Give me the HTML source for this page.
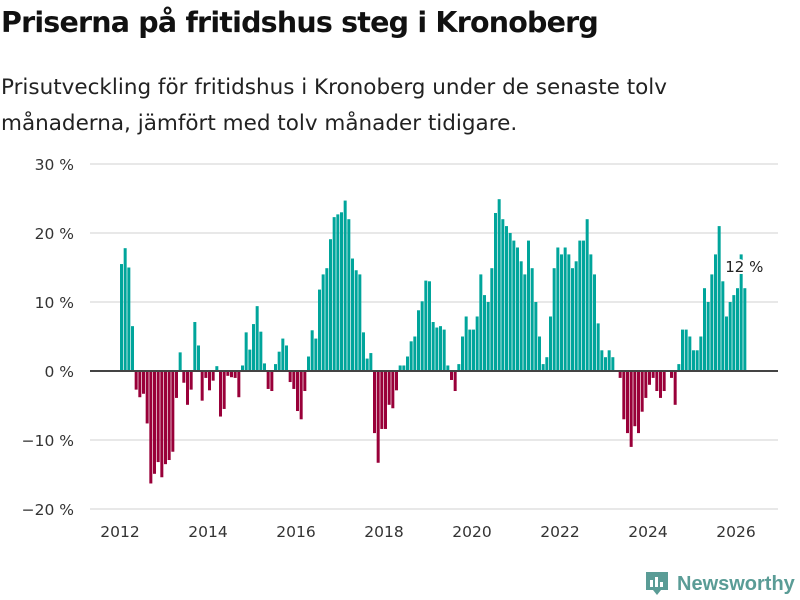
<!DOCTYPE html>
<html><head><meta charset="utf-8">
<style>
body{margin:0;background:#fff;font-family:"DejaVu Sans","Liberation Sans",sans-serif;}
#wrap{position:relative;width:800px;height:600px;overflow:hidden;}
h1{position:absolute;left:1px;top:6px;margin:0;font-size:28.5px;font-weight:bold;color:#111;letter-spacing:-0.8px;white-space:nowrap;}
.sub{position:absolute;left:1px;top:70px;margin:0;font-size:21.5px;line-height:36px;color:#222;white-space:nowrap;}
</style></head><body>
<div id="wrap">
<h1>Priserna på fritidshus steg i Kronoberg</h1>
<p class="sub">Prisutveckling för fritidshus i Kronoberg under de senaste tolv<br>månaderna, jämfört med tolv månader tidigare.</p>
<svg id="chart" width="800" height="600" style="position:absolute;left:0;top:0"></svg>
</div>
<script>
const startYear = 2012;
const values = [15.5,17.8,15.0,6.5,-2.7,-3.8,-3.3,-7.6,-16.3,-14.9,
-13.2,-15.4,-13.5,-12.9,-11.7,-3.9,2.7,-1.7,-4.9,-2.7,
7.1,3.7,-4.3,-1.0,-2.8,-1.4,0.7,-6.6,-5.5,-0.7,
-0.9,-1.0,-3.8,0.8,5.6,3.1,6.8,9.4,5.7,1.1,
-2.6,-2.9,1.0,2.8,
4.7,3.7,-1.6,-2.6,-5.8,-7.0,-2.9,2.1,5.9,4.7,
11.8,14.0,14.9,19.1,22.3,22.7,23.0,24.7,22.0,16.3,
14.6,14.0,5.6,1.8,2.6,-9.0,-13.3,-8.4,-8.4,-4.9,
-5.4,-2.8,0.8,0.8,2.1,4.3,5.0,8.8,10.1,13.1,
13.0,7.1,6.3,6.5,
6.0,0.8,-1.3,-2.9,1.0,5.0,7.9,6.0,6.0,7.9,
14.0,11.0,10.0,14.9,22.9,24.9,22.0,21.0,20.0,18.9,
17.9,15.9,14.0,18.9,14.9,10.0,5.0,1.0,2.0,7.9,
14.9,17.9,16.9,17.9,16.9,14.9,15.9,18.9,18.9,22.0,
16.9,14.0,6.9,
3.0,2.0,3.0,2.0,0,-1.0,-7.0,-9.0,-11.0,-8.0,
-9.0,-5.9,-3.9,-2.0,-1.0,-2.9,-3.9,-2.9,0,-1.0,
-4.9,1.0,6.0,6.0,5.0,3.0,3.0,5.0,12.0,10.0,
14.0,16.9,21.0,13.0,7.9,10.0,11.0,12.0,16.9,12.0];
const yTicks = [-20,-10,0,10,20,30];
const yTickLabels = ["−20 %","−10 %","0 %","10 %","20 %","30 %"];
const xTicks = [2012,2014,2016,2018,2020,2022,2024,2026];
const lastLabel = "12 %";

const NS="http://www.w3.org/2000/svg";
const svg=document.getElementById('chart');
const yS=v=>371-v*6.9;
const xS=t=>120+(t-startYear)*44;
const FF='DejaVu Sans, Liberation Sans, sans-serif';
function mk(tag,attrs,parent){const e=document.createElementNS(NS,tag);for(const k in attrs)e.setAttribute(k,attrs[k]);(parent||svg).appendChild(e);return e;}

yTicks.forEach((t,i)=>{
  if(t!==0){const g=mk('line',{x1:90,x2:778,y1:yS(t),y2:yS(t),stroke:'#e1e1e1','stroke-width':1.5});
  
  }
  const l=mk('text',{x:74,y:yS(t)+6,'text-anchor':'end','font-size':15.5,fill:'#333','font-family':FF});
  l.textContent=yTickLabels[i];
  
  
});
xTicks.forEach(t=>{
  const l=mk('text',{x:xS(t),y:537,'text-anchor':'middle','font-size':15.5,fill:'#333','font-family':FF});
  l.textContent=t;
  
  
});
values.forEach((v,i)=>{
  const x=xS(startYear+i/12);
  const y0=yS(0),y1=yS(v);
  const r=mk('rect',{x:x,width:3,y:Math.min(y0,y1),height:Math.abs(y1-y0),fill:v>=0?'#00a59b':'#990039'});
  
  
});
const zl=mk('line',{x1:90,x2:778,y1:yS(0),y2:yS(0),stroke:'#444','stroke-width':2});


const li=values.length-1;
const lb=mk('text',{x:xS(startYear+li/12)+1,y:272,'text-anchor':'middle','font-size':15,fill:'#222',stroke:'#fff','stroke-width':4,'paint-order':'stroke','font-family':FF});
lb.textContent=lastLabel;



const g=mk('g',{});


mk('path',{d:'M646 572 h22 v18 h-7 l-4 5 l-4 -5 h-7 z',fill:'#5a9c96'},g);
mk('rect',{x:650,y:580,width:3,height:7,fill:'#fff'},g);
mk('rect',{x:655,y:577,width:3,height:10,fill:'#fff'},g);
mk('rect',{x:660,y:582,width:3,height:5,fill:'#fff'},g);
const lt=mk('text',{x:677,y:590,'font-size':20,'font-weight':'bold',fill:'#5a9c96','font-family':'Liberation Sans, sans-serif'},g);
lt.textContent='Newsworthy';
</script>
</body></html>
